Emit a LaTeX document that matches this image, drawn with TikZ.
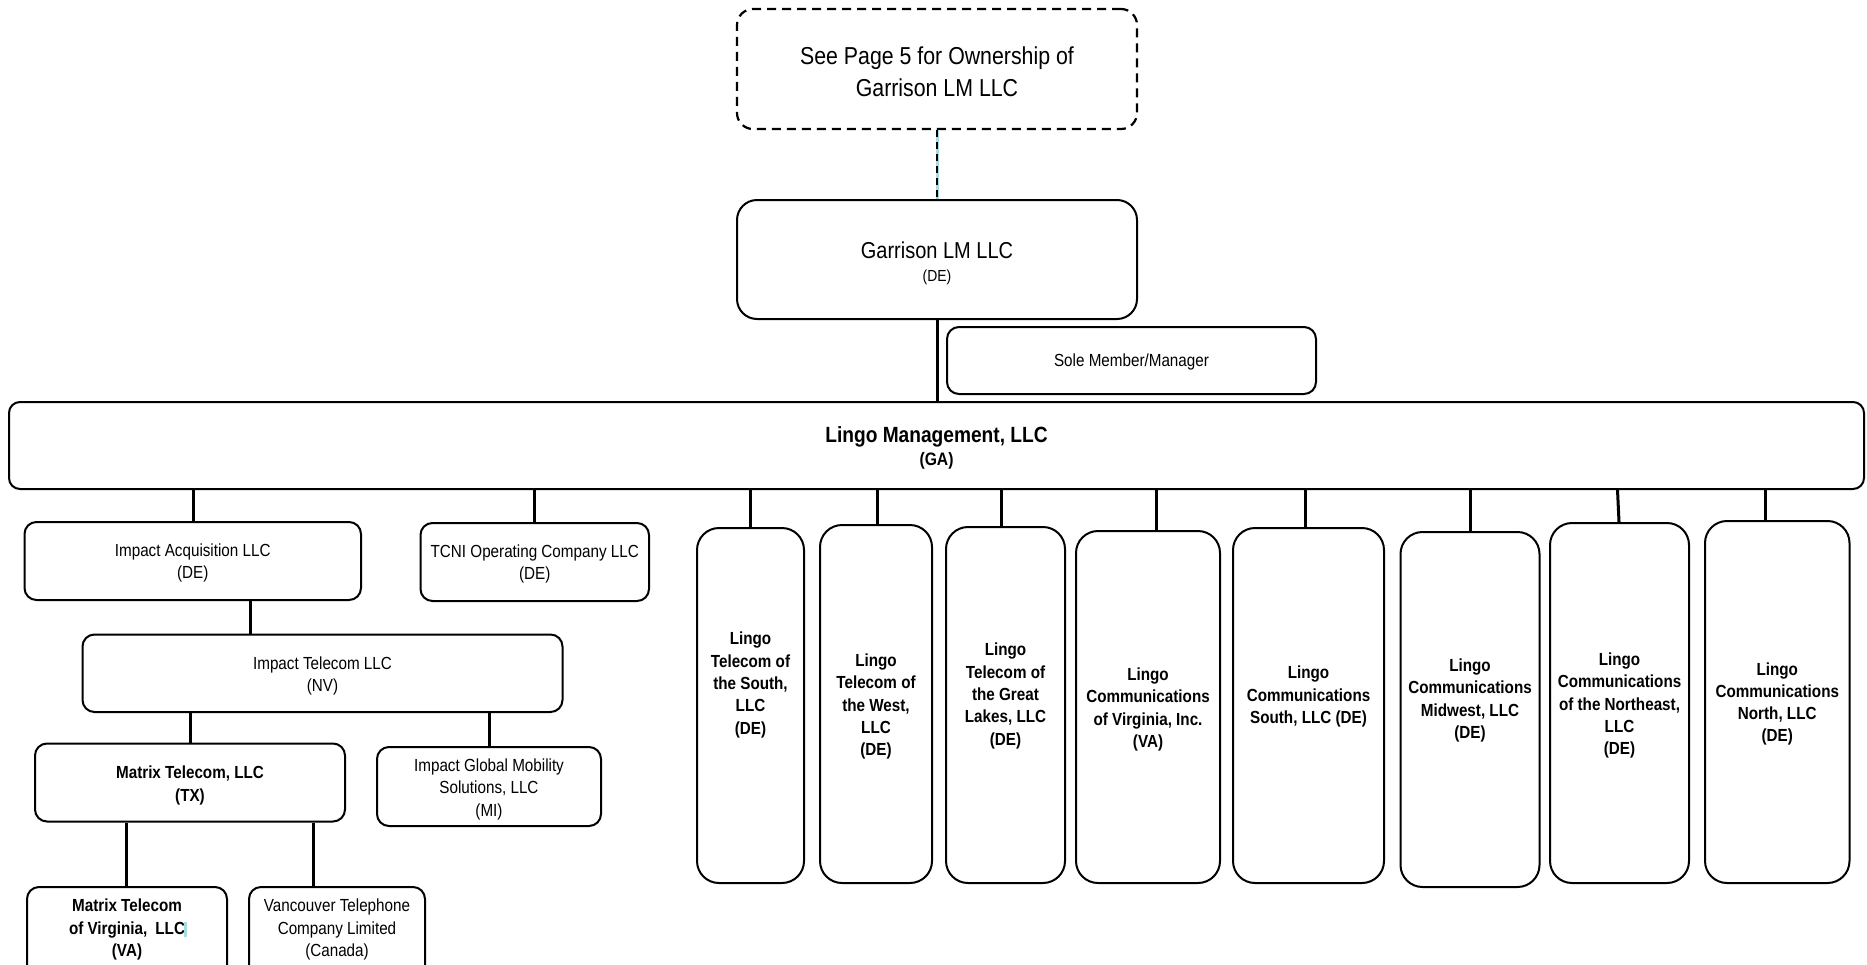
\documentclass[tikz,border=0pt]{standalone}
\usepackage{fontspec}
\setmainfont[FakeStretch=0.87]{Liberation Sans}
\newcommand{\fsz}[2]{\fontsize{#1pt}{#2pt}\selectfont}
\definecolor{cyanline}{HTML}{A8DCE0}
\begin{document}
\begin{tikzpicture}[x=1pt,y=-1pt,
  box/.style={draw, line width=2pt, rounded corners=12pt, inner sep=0pt},
  tallbox/.style={box, rounded corners=22pt},
  dashbox/.style={box, rounded corners=16pt, line width=2.2pt, dash pattern=on 9pt off 6pt},
  conn/.style={line width=3pt},
  lbl/.style={align=center, inner sep=0pt, font=\fsz{17.5}{22.5}},
  blbl/.style={align=center, inner sep=0pt, font=\bfseries\fsz{17.5}{22.3}}]
\useasboundingbox (0,0) rectangle (1867,964);
\clip (0,0) rectangle (1867,964);

% ---- top part
\node[dashbox, minimum width=400pt, minimum height=120pt] (own) at (937,69) {};
\node[align=center, inner sep=0pt, font=\fsz{24.5}{32}] (ownt) at (937,72) {See Page 5 for Ownership of\\Garrison LM LLC};

\node[box, rounded corners=20pt, minimum width=400pt, minimum height=119pt] (gar) at (937,259.5) {};
\node[inner sep=0pt, font=\fsz{23}{27}] (gart) at (937,250) {Garrison LM LLC};
\node[inner sep=0pt, font=\fsz{16}{20}] (gars) at (937,277.5) {(DE)};

\node[box, minimum width=369pt, minimum height=67pt] (sole) at (1131.5,360.5) {};
\node[lbl] (solet) at (1131.5,362) {Sole Member/Manager};

\node[box, rounded corners=11pt, minimum width=1855pt, minimum height=87pt] (lm) at (936.5,445.5) {};
\node[inner sep=0pt, font=\bfseries\fsz{22}{26}] (lmt) at (936.5,437) {Lingo Management, LLC};
\node[inner sep=0pt, font=\bfseries\fsz{18}{22}] (lms) at (936.5,460.5) {(GA)};

% ---- left branch
\node[box, minimum width=336.5pt, minimum height=78pt] (ia) at (192.75,561) {};
\node[lbl] (iat) at (192.75,563) {Impact Acquisition LLC\\(DE)};

\node[box, minimum width=228.5pt, minimum height=78pt] (tcni) at (534.75,562) {};
\node[lbl] (tcnit) at (534.75,564) {TCNI Operating Company LLC\\(DE)};

\node[box, minimum width=480pt, minimum height=77.5pt] (it) at (322.5,673.25) {};
\node[lbl] (itt) at (322.5,676) {Impact Telecom LLC\\(NV)};

\node[box, minimum width=310pt, minimum height=78pt] (mt) at (190,782.5) {};
\node[blbl] (mtt) at (190,785.5) {Matrix Telecom, LLC\\(TX)};

\node[box, minimum width=224pt, minimum height=79pt] (igm) at (489,786.5) {};
\node[lbl] (igmt) at (489,789) {Impact Global Mobility\\Solutions, LLC\\(MI)};

\node[box, minimum width=200pt, minimum height=90pt] (mva) at (127,932) {};
\node[blbl] (mvat) at (127,929.5) {Matrix Telecom\\of Virginia,\hspace{8pt}LLC\\(VA)};
\fill[cyanline] (183.5,922) rectangle (186.5,937);

\node[box, minimum width=176pt, minimum height=90pt] (van) at (337,932) {};
\node[lbl] (vant) at (337,929.5) {Vancouver Telephone\\Company Limited\\(Canada)};

% ---- tall boxes
\node[tallbox, minimum width=107pt, minimum height=355pt] (ls) at (750.5,705.5) {};
\node[blbl] (lst) at (750.5,685) {Lingo\\Telecom of\\the South,\\LLC\\(DE)};

\node[tallbox, minimum width=112pt, minimum height=358pt] (lw) at (876,704) {};
\node[blbl] (lwt) at (876,706.5) {Lingo\\Telecom of\\the West,\\LLC\\(DE)};

\node[tallbox, minimum width=119pt, minimum height=356pt] (lgl) at (1005.5,705) {};
\node[blbl] (lglt) at (1005.5,696) {Lingo\\Telecom of\\the Great\\Lakes, LLC\\(DE)};

\node[tallbox, minimum width=144pt, minimum height=352pt] (lcv) at (1148,707) {};
\node[blbl] (lcvt) at (1148,709.5) {Lingo\\Communications\\of Virginia, Inc.\\(VA)};

\node[tallbox, minimum width=151pt, minimum height=355pt] (lcs) at (1308.5,705.5) {};
\node[blbl] (lcst) at (1308.5,696.5) {Lingo\\Communications\\South, LLC (DE)};

\node[tallbox, minimum width=139pt, minimum height=355pt] (lcm) at (1470,709.5) {};
\node[blbl] (lcmt) at (1470,700.5) {Lingo\\Communications\\Midwest, LLC\\(DE)};

\node[tallbox, minimum width=139pt, minimum height=360pt] (lcne) at (1619.5,703) {};
\node[blbl] (lcnet) at (1619.5,705.5) {Lingo\\Communications\\of the Northeast,\\LLC\\(DE)};

\node[tallbox, minimum width=144.5pt, minimum height=362pt] (lcn) at (1777.25,702) {};
\node[blbl] (lcnt) at (1777.25,704) {Lingo\\Communications\\North, LLC\\(DE)};

% ---- connectors
\draw[line width=3pt, cyanline] (own.south) -- (gar.north);
\draw[line width=2.4pt, dash pattern=on 7pt off 5pt] (own.south) -- (gar.north);
\draw[conn] (gar.south) -- (lm.north -| gar.south);

\draw[conn] (lm.south -| 193,0) -- (ia.north -| 193,0);
\draw[conn] (lm.south -| 534,0) -- (tcni.north -| 534,0);
\draw[conn] (lm.south -| 750.5,0) -- (ls.north -| 750.5,0);
\draw[conn] (lm.south -| 877.5,0) -- (lw.north -| 877.5,0);
\draw[conn] (lm.south -| 1001,0) -- (lgl.north -| 1001,0);
\draw[conn] (lm.south -| 1156,0) -- (lcv.north -| 1156,0);
\draw[conn] (lm.south -| 1305,0) -- (lcs.north -| 1305,0);
\draw[conn] (lm.south -| 1470.7,0) -- (lcm.north -| 1470.7,0);
\draw[conn] (lm.south -| 1617.5,0) -- (lcne.north -| 1619,0);
\draw[conn] (lm.south -| 1765,0) -- (lcn.north -| 1765,0);

\draw[conn] (ia.south -| 250,0) -- (it.north -| 250,0);
\draw[conn] (it.south -| 190,0) -- (mt.north -| 190,0);
\draw[conn] (it.south -| 489,0) -- (igm.north -| 489,0);
\draw[conn] (mt.south -| 126,0) -- (mva.north -| 126,0);
\draw[conn] (mt.south -| 313,0) -- (van.north -| 313,0);
\end{tikzpicture}
\end{document}
